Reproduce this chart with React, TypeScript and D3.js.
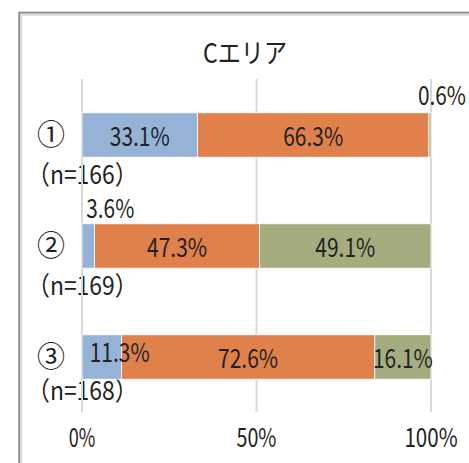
import React from "react";
import * as d3 from "d3";

const title = "Cエリア";
const categories = ["①", "②", "③"];
const sampleSizes = ["（n=166）", "（n=169）", "（n=168）"];
const seriesA = [33.1, 3.6, 11.3];
const seriesB = [66.3, 47.3, 72.6];
const seriesC = [0.6, 49.1, 16.1];
const ticks = [0, 50, 100];

const colors = ["#95B3D7", "#E0804A", "#A5AD80"];
// manual label nudges (as in the original chart), keyed "row-series"
const nudges: Record<string, [number, number]> = {
  "0-2": [12, -41],
  "1-0": [22, -39],
  "2-0": [18, -6],
};

const FONT = "'Noto Sans CJK JP', 'Noto Sans', sans-serif";
const fitLen = (s: string, half: number) =>
  Array.from(s).reduce((a, c) => a + (c.charCodeAt(0) < 0x2000 ? half : half * 2), 0);

export default function App() {
  const W = 469, H = 463;
  const x = d3.scaleLinear().domain([0, 100]).range([82, 431]);
  const y = d3.scaleBand<string>().domain(categories).range([79.5, 412.5]).paddingInner(0.6).paddingOuter(0.3);
  const rows = categories.map((c, i) => ({ c, a: seriesA[i], b: seriesB[i], cc: seriesC[i] }));
  const stack = d3.stack<any>().keys(["a", "b", "cc"])(rows);
  const gridTop = 79, gridBottom = 412;
  const bw = y.bandwidth();

  return (
    <svg width={W} height={H} style={{ position: "absolute", left: 0, top: 0 }} fontFamily={FONT}>
      <rect x={0} y={0} width={W} height={H} fill="#fff" />
      <rect x={19.3} y={12.7} width={W + 20} height={H + 20} fill="none" stroke="#8a8a8a" strokeWidth={2} />
      <rect x={21.3} y={14.7} width={W + 20} height={H + 20} fill="none" stroke="#dcdcdc" strokeWidth={2} />
      <text x={245} y={53} dy="0.36em" textAnchor="middle" fontSize={27} fill="#222"
        textLength={fitLen(title, 12)} lengthAdjust="spacingAndGlyphs">{title}</text>

      {categories.map((c, i) => {
        const cy = (y(c) as number) + bw / 2;
        const ny = Math.min(cy + 40, gridBottom - 21);
        return (
          <g key={c}>
            <text x={37} y={cy} dy="0.36em" fontSize={28} fill="#222">{c}</text>
            <text x={27} y={ny} dy="0.36em" fontSize={26} fill="#222"
              textLength={fitLen(sampleSizes[i], 12.3)} lengthAdjust="spacingAndGlyphs">{sampleSizes[i]}</text>
          </g>
        );
      })}

      {ticks.map((t) => (
        <g key={t}>
          <line x1={x(t)} x2={x(t)} y1={gridTop} y2={gridBottom} stroke="#d9d9d9" strokeWidth={2} />
          <text x={x(t)} y={438} dy="0.36em" textAnchor="middle" fontSize={26} fill="#222"
            textLength={fitLen(t + "%", 13.3)} lengthAdjust="spacingAndGlyphs">{t + "%"}</text>
        </g>
      ))}

      {stack.map((layer, si) =>
        layer.map((d, ri) => (
          <rect key={si + "-" + ri} x={x(d[0])} y={y(categories[ri])} width={x(d[1]) - x(d[0])} height={bw}
            fill={colors[si]} stroke="#fff" strokeWidth={0.8} />
        ))
      )}

      {stack.map((layer, si) =>
        layer.map((d, ri) => {
          const v = d[1] - d[0];
          const label = (Math.round(v * 10) / 10).toFixed(1) + "%";
          const nd = nudges[ri + "-" + si] || [0, 0];
          const cx = (x(d[0]) + x(d[1])) / 2 + nd[0];
          const cy = (y(categories[ri]) as number) + bw / 2 + 1.5 + nd[1];
          return (
            <text key={"l" + si + "-" + ri} x={cx} y={cy} dy="0.36em" textAnchor="middle" fontSize={26} fill="#222"
              textLength={fitLen(label, 12)} lengthAdjust="spacingAndGlyphs">{label}</text>
          );
        })
      )}
    </svg>
  );
}
